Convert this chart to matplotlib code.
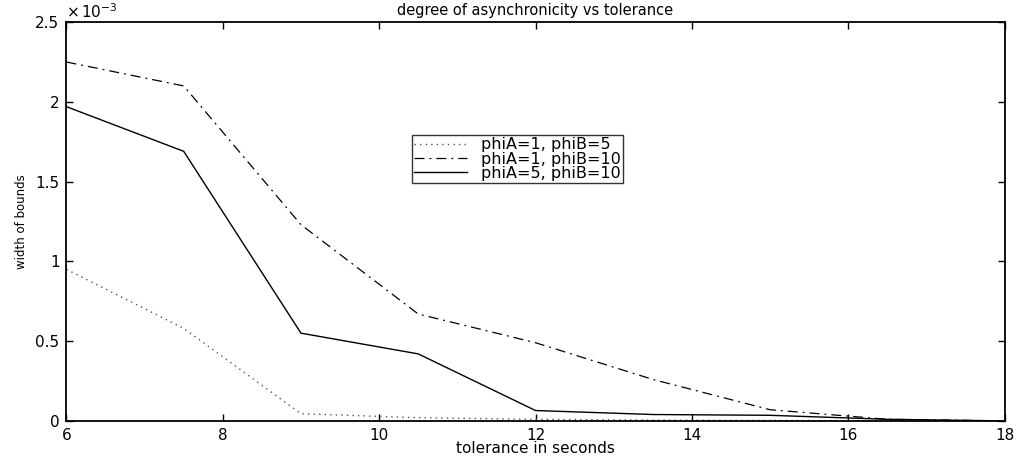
import matplotlib.pyplot as plt
import numpy as np

plt.rcParams['font.family'] = ['DejaVu Sans']

# tolerance in seconds
tolerance = [6, 7.5, 9, 10.5, 12, 13.5, 15, 16.5, 18]
# width of bounds, in units of 1e-3
phiA1_phiB5 = [0.95, 0.58, 0.045, 0.02, 0.01, 0.005, 0.003, 0.001, 0.0]
phiA1_phiB10 = [2.25, 2.1, 1.23, 0.67, 0.49, 0.26, 0.07, 0.01, 0.0]
phiA5_phiB10 = [1.97, 1.69, 0.55, 0.42, 0.065, 0.04, 0.035, 0.01, 0.0]
labels = ['phiA=1, phiB=5', 'phiA=1, phiB=10', 'phiA=5, phiB=10']

fig = plt.figure(figsize=(10.22, 4.61), dpi=100)
ax = fig.add_axes([0.065, 0.087, 0.918, 0.865])

ax.plot(tolerance, phiA1_phiB5, color='#555555', linestyle=(0, (1, 3)), linewidth=1, label=labels[0])
ax.plot(tolerance, phiA1_phiB10, color='black', linestyle=(0, (8, 4, 1.5, 4)), linewidth=0.9, label=labels[1])
ax.plot(tolerance, phiA5_phiB10, color='black', linestyle='-', linewidth=1, label=labels[2])

ax.set_xlim(6, 18)
ax.set_ylim(0, 2.5)
ax.set_xticks(np.arange(6, 19, 2))
ax.set_yticks([0, 0.5, 1, 1.5, 2, 2.5])
ax.set_yticklabels(['0', '0.5', '1', '1.5', '2', '2.5'])
ax.tick_params(direction='in', top=True, right=True, labelsize=11, length=5, width=1, pad=5)
for s in ax.spines.values():
    s.set_linewidth(1.3)

ax.text(0.0, 1.003, r'$\times\,10^{-3}$', transform=ax.transAxes, fontsize=11, ha='left', va='bottom')
ax.set_title('degree of asynchronicity vs tolerance', fontsize=10.5, pad=5)
ax.set_xlabel('tolerance in seconds', fontsize=11, labelpad=-1)
ax.set_ylabel('width of bounds', fontsize=8.5, labelpad=5)

leg = ax.legend(loc='upper left', bbox_to_anchor=(0.368, 0.717), fontsize=11.5, frameon=True,
                fancybox=False, edgecolor='black', borderpad=0.15, handlelength=3.3,
                handletextpad=0.9, labelspacing=-0.05, borderaxespad=0)
leg.get_frame().set_linewidth(1)

fig.savefig('out.png', dpi=100)
